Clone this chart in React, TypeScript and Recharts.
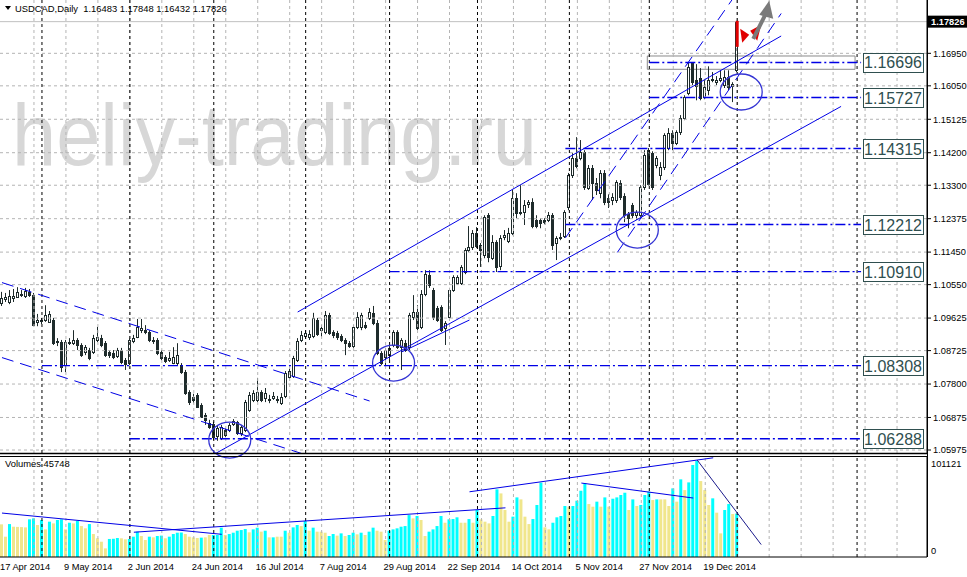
import React from 'react';
import { ComposedChart, Bar, XAxis, YAxis, ReferenceLine, ReferenceDot, ReferenceArea, Cell } from 'recharts';

const FONT = '"Liberation Sans", Arial, "DejaVu Sans", sans-serif';
const CANDLE = '#1e2b2b';
const BLUE = '#0000e6';
const GRID = '#b4b4b4';
const SLOT_COUNT = 232;

const openPrices = [
  1.1004,1.1015,1.1007,1.1018,1.1021,1.1026,1.1023,1.1035,1.1026,1.0952,
  1.0954,1.0957,1.0952,1.0957,1.0896,1.0896,1.0832,1.0893,1.0893,1.0902,
  1.0888,1.0869,1.0874,1.0869,1.0902,1.0907,1.0893,1.0869,1.0866,1.0858,
  1.0874,1.0846,1.0838,1.0899,1.0910,1.0929,1.0929,1.0924,1.0902,1.0902,
  1.0869,1.0855,1.0846,1.0838,1.0838,1.0832,1.0813,1.0758,1.0744,1.0750,
  1.0722,1.0694,1.0672,1.0669,1.0636,1.0631,1.0653,1.0653,1.0669,1.0675,
  1.0645,1.0653,1.0708,1.0736,1.0736,1.0758,1.0741,1.0739,1.0741,1.0739,
  1.0727,1.0747,1.0800,1.0802,1.0846,1.0902,1.0913,1.0910,1.0913,1.0957,
  1.0929,1.0924,1.0971,1.0924,1.0921,1.0913,1.0902,1.0893,1.0885,1.0938,
  1.0938,1.0943,1.0963,1.0977,1.0949,1.0866,1.0855,1.0860,1.0888,1.0924,
  1.0882,1.0893,1.0882,1.0965,1.0979,1.0938,1.1029,1.1081,1.1040,1.0990,
  1.0993,1.0935,1.0965,1.1040,1.1059,1.1059,1.1090,1.1151,1.1159,1.1198,
  1.1164,1.1137,1.1247,1.1128,1.1173,1.1106,1.1187,1.1176,1.1198,1.1294,
  1.1253,1.1256,1.1278,1.1283,1.1234,1.1234,1.1234,1.1234,1.1247,1.1170,
  1.1187,1.1189,1.1270,1.1358,1.1405,1.1405,1.1421,1.1322,1.1377,1.1336,
  1.1308,1.1363,1.1294,1.1289,1.1289,1.1336,1.1300,1.1250,1.1275,1.1247,
  1.1247,1.1325,1.1427,1.1419,1.1386,1.1358,1.1380,1.1433,1.1474,1.1446,
  1.1477,1.1515,1.1585,1.1668,1.1621,1.1626,1.1574,1.1593,1.1621,1.1615,
  1.1621,1.1607,1.1629,1.1604,1.16483,
];

const highPrices = [
  1.1035,1.1032,1.1040,1.1043,1.1048,1.1040,1.1046,1.1043,1.1032,1.0974,
  1.0963,1.0998,1.0982,1.0963,1.0907,1.0902,1.0902,1.0907,1.0929,1.0907,
  1.0893,1.0888,1.0880,1.0916,1.0938,1.0916,1.0899,1.0874,1.0874,1.0880,
  1.0880,1.0852,1.0907,1.0916,1.0960,1.0960,1.0943,1.0929,1.0910,1.0907,
  1.0874,1.0860,1.0869,1.0882,1.0893,1.0838,1.0819,1.0763,1.0753,1.0755,
  1.0727,1.0700,1.0681,1.0675,1.0664,1.0667,1.0658,1.0672,1.0683,1.0678,
  1.0667,1.0736,1.0758,1.0763,1.0797,1.0763,1.0769,1.0750,1.0758,1.0747,
  1.0755,1.0816,1.0822,1.0858,1.0907,1.0927,1.0929,1.0929,1.0977,1.0963,
  1.0943,1.0982,1.0977,1.0929,1.0927,1.0918,1.0907,1.0899,1.0943,1.0979,
  1.0977,1.0952,1.0990,1.0996,1.0957,1.0871,1.0880,1.0885,1.0929,1.0929,
  1.0907,1.0902,1.0977,1.1026,1.0998,1.1040,1.1095,1.1095,1.1046,1.0996,
  1.0998,1.0954,1.1046,1.1081,1.1081,1.1109,1.1156,1.1217,1.1206,1.1214,
  1.1170,1.1247,1.1253,1.1192,1.1178,1.1192,1.1206,1.1212,1.1317,1.1308,
  1.1330,1.1289,1.1289,1.1294,1.1247,1.1239,1.1239,1.1256,1.1253,1.1189,
  1.1198,1.1261,1.1364,1.1419,1.1463,1.1455,1.1427,1.1386,1.1386,1.1350,
  1.1372,1.1372,1.1305,1.1308,1.1344,1.1344,1.1308,1.1256,1.1281,1.1261,
  1.1330,1.1427,1.1433,1.1424,1.1411,1.1394,1.1474,1.1488,1.1482,1.1482,
  1.1524,1.1579,1.1668,1.1670,1.1665,1.1654,1.1621,1.1659,1.1643,1.1632,
  1.1648,1.1648,1.1648,1.1615,1.17848,
];

const lowPrices = [
  1.0996,1.1007,1.1001,1.1007,1.1018,1.1021,1.1018,1.1021,1.0940,1.0940,
  1.0946,1.0952,1.0949,1.0888,1.0885,1.0813,1.0813,1.0888,1.0888,1.0874,
  1.0855,1.0860,1.0846,1.0863,1.0896,1.0882,1.0855,1.0852,1.0849,1.0852,
  1.0835,1.0819,1.0832,1.0893,1.0907,1.0921,1.0918,1.0896,1.0891,1.0860,
  1.0846,1.0838,1.0841,1.0835,1.0832,1.0808,1.0750,1.0722,1.0727,1.0714,
  1.0686,1.0667,1.0656,1.0625,1.0623,1.0625,1.0633,1.0647,1.0664,1.0639,
  1.0636,1.0647,1.0703,1.0730,1.0730,1.0730,1.0730,1.0727,1.0736,1.0727,
  1.0722,1.0741,1.0794,1.0797,1.0841,1.0896,1.0905,1.0902,1.0907,1.0913,
  1.0910,1.0918,1.0916,1.0907,1.0902,1.0896,1.0860,1.0880,1.0880,1.0932,
  1.0929,1.0932,1.0957,1.0943,1.0860,1.0832,1.0830,1.0846,1.0882,1.0877,
  1.0819,1.0869,1.0874,1.0957,1.0929,1.0932,1.1023,1.1046,1.0957,1.0952,
  1.0924,1.0888,1.0957,1.1035,1.1054,1.1054,1.1084,1.1145,1.1151,1.1156,
  1.1104,1.1128,1.1117,1.1123,1.1090,1.1095,1.1178,1.1170,1.1192,1.1239,
  1.1247,1.1220,1.1267,1.1211,1.1211,1.1211,1.1222,1.1228,1.1151,1.1123,
  1.1178,1.1184,1.1261,1.1350,1.1377,1.1399,1.1317,1.1317,1.1289,1.1303,
  1.1294,1.1275,1.1267,1.1275,1.1281,1.1289,1.1228,1.1211,1.1239,1.1234,
  1.1242,1.1317,1.1328,1.1317,1.1377,1.1344,1.1372,1.1427,1.1427,1.1441,
  1.1469,1.1510,1.1579,1.1607,1.1565,1.1565,1.1568,1.1579,1.1615,1.1607,
  1.1615,1.1599,1.1593,1.1560,1.16432,
];

const closePrices = [
  1.1018,1.1021,1.1023,1.1023,1.1035,1.1029,1.1037,1.1026,1.0943,1.0957,
  1.0957,1.0971,1.0974,1.0893,1.0899,1.0827,1.0896,1.0896,1.0902,1.0888,
  1.0860,1.0882,1.0852,1.0907,1.0910,1.0888,1.0860,1.0860,1.0855,1.0874,
  1.0841,1.0835,1.0902,1.0907,1.0938,1.0935,1.0924,1.0902,1.0899,1.0866,
  1.0852,1.0844,1.0852,1.0855,1.0860,1.0813,1.0755,1.0730,1.0736,1.0717,
  1.0689,1.0681,1.0661,1.0633,1.0658,1.0661,1.0639,1.0667,1.0678,1.0645,
  1.0661,1.0730,1.0750,1.0755,1.0758,1.0736,1.0755,1.0736,1.0747,1.0736,
  1.0744,1.0810,1.0816,1.0852,1.0899,1.0916,1.0921,1.0918,1.0963,1.0918,
  1.0935,1.0971,1.0921,1.0916,1.0910,1.0902,1.0893,1.0885,1.0938,1.0965,
  1.0971,1.0938,1.0979,1.0949,1.0866,1.0838,1.0874,1.0880,1.0924,1.0882,
  1.0902,1.0874,1.0971,1.0979,1.0935,1.1029,1.1084,1.1054,1.0965,1.0957,
  1.0929,1.0949,1.1040,1.1076,1.1076,1.1104,1.1151,1.1159,1.1198,1.1162,
  1.1151,1.1242,1.1131,1.1173,1.1104,1.1184,1.1192,1.1198,1.1294,1.1253,
  1.1256,1.1275,1.1283,1.1217,1.1217,1.1225,1.1228,1.1247,1.1164,1.1184,
  1.1184,1.1256,1.1358,1.1405,1.1383,1.1421,1.1325,1.1377,1.1336,1.1317,
  1.1363,1.1283,1.1283,1.1297,1.1339,1.1297,1.1247,1.1239,1.1247,1.1256,
  1.1325,1.1413,1.1333,1.1325,1.1405,1.1380,1.1469,1.1474,1.1446,1.1477,
  1.1515,1.1574,1.1656,1.1615,1.1604,1.1571,1.1601,1.1621,1.1623,1.1621,
  1.1626,1.1629,1.1601,1.1610,1.17826,
];

const volumes = [
  34400,21400,34700,31900,31700,31500,31200,39700,40700,33700,
  39000,29100,37200,35400,39000,39700,29100,36100,35400,37900,
  32600,30200,34700,24200,19700,16100,9100,19000,19200,20000,
  19700,18600,19000,21400,26700,22100,17900,21400,20700,22100,
  22500,19700,21400,24200,25600,25800,24200,21400,20700,20000,
  20400,20700,23200,23200,23200,30900,23200,24200,25600,27700,
  28400,29500,26000,29100,30900,26700,27700,20700,20700,21400,
  21400,27700,25600,31200,33700,32600,37900,27700,30900,26700,
  26700,25600,22100,24200,22500,24900,22100,23200,25600,23900,
  25600,23200,26700,30900,27700,26700,17900,27700,29100,30200,
  31900,32600,44200,40700,43200,39000,22100,26700,29100,32600,
  43200,36100,39700,40000,41800,36100,36100,40000,36100,49500,
  39700,37200,35400,43200,71300,67000,49500,37200,42500,62800,
  60700,42500,34700,40000,54800,78300,31200,29100,36100,41800,
  43200,53700,53000,53700,59300,69800,77600,55800,53000,58300,
  53000,62800,53000,61400,62800,65300,67700,49500,60700,53700,
  54800,65300,68800,60000,60700,60700,60700,53700,72300,58300,
  81800,70500,78600,96900,101121,80000,70500,54800,61800,46700,
  24900,49500,55800,45300,45748,
];

const volumeRising = [
  0,0,1,0,0,0,0,1,1,0, 1,0,1,0,1,1,0,1,0,1,
  0,0,1,0,0,0,0,1,1,1, 0,0,1,1,1,0,0,1,0,1,
  1,0,1,1,1,1,0,0,0,0, 1,0,0,1,1,1,0,1,1,1,
  1,1,0,1,1,0,1,0,1,0, 0,1,0,1,1,0,1,0,1,0,
  0,0,1,1,0,1,0,1,1,0, 1,0,1,1,0,0,0,1,1,1,
  1,1,1,0,1,0,0,1,1,1, 1,0,1,1,1,0,0,1,0,1,
  0,0,0,1,1,0,0,0,1,1, 0,0,0,1,1,1,0,0,1,1,
  1,1,0,1,1,1,1,0,0,1, 0,1,0,1,1,1,1,0,1,0,
  1,1,1,0,1,0,0,0,1,0, 1,0,1,1,1,0,0,0,1,0,
  0,1,1,0,1,
];

const priceTicks = [1.1695, 1.1605, 1.15125, 1.142, 1.133, 1.12375, 1.1145, 1.1055, 1.09625, 1.08725, 1.078, 1.06875, 1.05975];
const priceDomain = [1.05892, 1.18425];
const volumeDomain = [0, 106400];
const volumeTicks = [0, 101121];

const dateLabelBars = [0, 16, 32, 48, 64, 80, 96, 112, 128, 144, 160, 176];
const dateLabels = ['17 Apr 2014', '9 May 2014', '2 Jun 2014', '24 Jun 2014', '16 Jul 2014', '7 Aug 2014', '29 Aug 2014', '22 Sep 2014', '14 Oct 2014', '5 Nov 2014', '27 Nov 2014', '19 Dec 2014'];
const gridBars = [8, 16, 24, 32, 40, 48, 56, 64, 72, 80, 88, 96, 104, 112, 120, 128, 136, 144, 152, 160, 168, 176, 184, 192, 200, 208, 216, 224];
const monthSeparatorBars = [10, 32, 53, 76, 97, 119, 142, 162, 184, 214];

const levelPrices = [1.16696, 1.15727, 1.14315, 1.12212, 1.1091, 1.08308, 1.06288];
const levelStartBars = [162, 162, 141, 141, 97, 10, 32];
const levelEndBar = 215;
const levelBoxBar = 223;
const zoneBars = [162, 213];
const zonePrices = [1.16508, 1.16876];

// trend lines: [barFrom, priceFrom, barTo, priceTo, dashed]
const priceTrendLines = [
  [74, 1.09793, 195, 1.17429, 0],
  [51, 1.05729, 210, 1.15481, 0],
  [100, 1.08687, 117, 1.09572, 0],
  [141, 1.11843, 186, 1.18951, 1],
  [154, 1.11442, 195, 1.18052, 1],
  [0, 1.10607, 92, 1.07331, 1],
  [0, 1.08532, 75, 1.05878, 1],
];
const volumeTrendLines = [
  [0, 46300, 55, 23900],
  [33, 26100, 126, 51800],
  [117, 68700, 178, 104500],
  [145, 77900, 173, 62100],
  [174, 102100, 190, 13100],
];
const circleBars = [57, 98, 159, 185];
const circlePrices = [1.0625, 1.0838, 1.1206, 1.1588];

const lastIndex = closePrices.length - 1;

const priceRows = Array.from({ length: SLOT_COUNT }, (_, i) =>
  i < openPrices.length
    ? { i, range: [lowPrices[i], highPrices[i]], o: openPrices[i], h: highPrices[i], l: lowPrices[i], c: closePrices[i] }
    : { i, range: null }
);
const volumeRows = Array.from({ length: SLOT_COUNT }, (_, i) =>
  i < volumes.length ? { i, vol: volumes[i], up: volumeRising[i] === 1 } : { i, vol: null, up: false }
);

const Candle = (props: any) => {
  const { x, y, width, height, payload } = props;
  if (!payload || payload.o == null) return null;
  const top = height >= 0 ? y : y + height;
  const hh = Math.abs(height);
  const { o, h, l, c } = payload;
  const span = h - l || 1e-9;
  const toY = (v: number) => top + ((h - v) / span) * hh;
  const cx = Math.floor(x + width / 2);
  const y1 = Math.round(Math.min(toY(o), toY(c)));
  const y2 = Math.round(Math.max(toY(o), toY(c)));
  const bull = c >= o;
  return (
    <g>
      <line x1={cx + 0.5} x2={cx + 0.5} y1={top} y2={top + hh} stroke={CANDLE} strokeWidth={1} />
      <rect x={cx - 0.5} y={y1 + 0.5} width={2} height={Math.max(y2 - y1, 0)} fill={bull ? '#ffffff' : CANDLE} stroke={CANDLE} strokeWidth={1} />
    </g>
  );
};

const BidLabel = (props: any) => {
  const vb = props.viewBox || {};
  const x = (vb.x || 0) + (vb.width || 0);
  const y = vb.y || 0;
  return (
    <g>
      <rect x={x + 1} y={y - 6} width={40} height={12} fill="#000" />
      <text x={x + 4} y={y + 3.5} fontSize={9.3} fontFamily={FONT} fontWeight="bold" fill="#fff">
        {closePrices[lastIndex].toFixed(5)}
      </text>
    </g>
  );
};

const LevelBox = (props: any) => {
  const { cx, cy, label } = props;
  return (
    <g>
      <rect x={Math.round(cx - 30) + 0.5} y={Math.round(cy - 9.5) + 0.5} width={60} height={19} fill="#fff" stroke="#2f4f4f" strokeWidth={1} />
      <text x={cx} y={cy + 6} textAnchor="middle" fontSize={16} fontFamily={FONT} fill="#2f4f4f">{label}</text>
    </g>
  );
};

const Ring = (props: any) => (
  <ellipse cx={props.cx} cy={props.cy} rx={21} ry={18} fill="none" stroke="#3434d4" strokeWidth={1.3} />
);

const SellMark = (props: any) => {
  const { cx, cy } = props;
  return (
    <g>
      <rect x={cx - 1.5} y={cy} width={3} height={26} fill="#e00000" />
      <polygon points={`${cx + 3},${cy + 8} ${cx + 12},${cy + 14} ${cx + 5},${cy + 22}`} fill="#e00000" />
      <polygon points={`${cx + 13},${cy + 10} ${cx + 24},${cy + 4} ${cx + 20},${cy + 20}`} fill="#e00000" />
    </g>
  );
};
const BuyArrow = (props: any) => {
  const { cx, cy } = props;
  return (
    <g>
      <line x1={cx + 16} y1={cy + 18} x2={cx + 28} y2={cy - 6} stroke="#7a7a7a" strokeWidth={4} />
      <polygon points={`${cx + 22},${cy - 6} ${cx + 32},${cy - 20} ${cx + 36},${cy - 2}`} fill="#7a7a7a" />
    </g>
  );
};

const DateTick = (props: any) => {
  const { x, y, payload } = props;
  const idx = dateLabelBars.indexOf(payload.value);
  if (idx < 0) return null;
  return (
    <text x={x - 2} y={y + 5} fontSize={9.3} fontFamily={FONT} fill="#000">{dateLabels[idx]}</text>
  );
};

const VolTick = (props: any) => {
  const { x, y, payload } = props;
  return (
    <text x={x} y={payload.value === 0 ? y - 3 : y + 6} fontSize={9.3} fontFamily={FONT} fill="#000">{String(payload.value)}</text>
  );
};

export default function App() {
  return (
    <div style={{ position: 'absolute', left: 0, top: 0, width: 967, height: 577, background: '#fff', overflow: 'hidden' }}>
      <svg width={967} height={577} style={{ position: 'absolute', left: 0, top: 0 }}>
        <text x={12} y={165} fontSize={88} fill="#d7d7d7" fontFamily={FONT} textLength={525} lengthAdjust="spacingAndGlyphs">heliy-trading.ru</text>
      </svg>

      <div style={{ position: 'absolute', left: 0, top: 455 }}>
        <ComposedChart width={967} height={122} data={volumeRows} margin={{ top: 1, right: 0, bottom: 0, left: 0 }} barCategoryGap={0}>
          <XAxis dataKey="i" type="category" height={20} ticks={dateLabelBars} interval={0} axisLine={{ stroke: '#000' }} tickLine={false} tick={<DateTick />} />
          <YAxis orientation="right" width={40} domain={volumeDomain} allowDataOverflow ticks={volumeTicks} interval={0}
            tickSize={0} tickMargin={4} axisLine={{ stroke: '#000' }} tickLine={false} tick={<VolTick />} />
          {gridBars.map((b) => (
            <ReferenceLine key={'vg' + b} x={b} stroke={GRID} strokeDasharray="3 3" />
          ))}
          {monthSeparatorBars.map((b) => (
            <ReferenceLine key={'vm' + b} x={b} stroke="#000" strokeDasharray="3 3" />
          ))}
          <Bar dataKey="vol" barSize={3} isAnimationActive={false}>
            {volumeRows.map((r) => (
              <Cell key={'vc' + r.i} fill={r.up ? '#00ffff' : '#f0e68c'} />
            ))}
          </Bar>
          {volumeTrendLines.map((t, k) => (
            <ReferenceLine key={'vt' + k} segment={[{ x: t[0], y: t[1] }, { x: t[2], y: t[3] }]}
              stroke={k === 4 ? '#1a1a8c' : BLUE} strokeWidth={1} ifOverflow="hidden" />
          ))}
        </ComposedChart>
      </div>

      <div style={{ position: 'absolute', left: 0, top: 0 }}>
        <ComposedChart width={967} height={462} data={priceRows} margin={{ top: 0, right: 0, bottom: 9, left: 0 }} barCategoryGap={0}>
          <XAxis dataKey="i" type="category" hide />
          <YAxis orientation="right" width={40} domain={priceDomain} allowDataOverflow ticks={priceTicks} interval={0}
            tickSize={4} tickMargin={2} axisLine={{ stroke: '#000' }} tickLine={{ stroke: '#000' }}
            tick={{ fontSize: 9.3, fill: '#000', fontFamily: FONT }} tickFormatter={(v: number) => v.toFixed(5)} />
          {priceTicks.map((p) => (
            <ReferenceLine key={'h' + p} y={p} stroke={GRID} strokeDasharray="3 3" />
          ))}
          {gridBars.map((b) => (
            <ReferenceLine key={'g' + b} x={b} stroke={GRID} strokeDasharray="3 3" />
          ))}
          {monthSeparatorBars.map((b) => (
            <ReferenceLine key={'m' + b} x={b} stroke="#000" strokeDasharray="3 3" />
          ))}
          <ReferenceLine y={closePrices[lastIndex]} stroke="#c0c0c0" label={<BidLabel />} />
          <Bar dataKey="range" barSize={3} shape={<Candle />} isAnimationActive={false} />
          <ReferenceArea x1={zoneBars[0]} x2={zoneBars[1]} y1={zonePrices[0]} y2={zonePrices[1]} fill="none" stroke="#8a8a8a" strokeWidth={1} ifOverflow="visible" />
          {levelPrices.map((p, k) => (
            <ReferenceLine key={'l' + p} segment={[{ x: levelStartBars[k], y: p }, { x: levelEndBar, y: p }]}
              stroke={BLUE} strokeWidth={1.4} strokeDasharray="10 3 2 3" ifOverflow="visible" />
          ))}
          {priceTrendLines.map((t, k) => (
            <ReferenceLine key={'t' + k} segment={[{ x: t[0], y: t[1] }, { x: t[2], y: t[3] }]}
              stroke={BLUE} strokeWidth={1} strokeDasharray={t[4] ? '12 7' : undefined} ifOverflow="hidden" />
          ))}
          {circleBars.map((b, k) => (
            <ReferenceDot key={'c' + k} x={b} y={circlePrices[k]} r={20} ifOverflow="visible" shape={<Ring />} />
          ))}
          <ReferenceDot x={lastIndex} y={highPrices[lastIndex]} r={2} ifOverflow="visible" shape={<SellMark />} />
          <ReferenceDot x={lastIndex} y={highPrices[lastIndex]} r={2} ifOverflow="visible" shape={<BuyArrow />} />
          {levelPrices.map((p, k) => (
            <ReferenceDot key={'b' + k} x={levelBoxBar} y={p} r={2} ifOverflow="visible" shape={<LevelBox label={p.toFixed(5)} />} />
          ))}
        </ComposedChart>
      </div>

      <svg width={967} height={577} style={{ position: 'absolute', left: 0, top: 0, pointerEvents: 'none' }}>
        <line x1={0} x2={928} y1={453.5} y2={453.5} stroke="#000" strokeWidth={1.5} />
        <line x1={0} x2={928} y1={456.5} y2={456.5} stroke="#000" strokeWidth={1} />
        <line x1={927.5} x2={927.5} y1={0} y2={557} stroke="#000" strokeWidth={1} />
        <polygon points="5,6 11,6 8,10" fill="#000" />
        <text x={15} y={12} fontSize={9.4} fontFamily={FONT} fill="#000" style={{ whiteSpace: 'pre' }}>
          {`USDCAD,Daily  ${openPrices[lastIndex].toFixed(5)} ${highPrices[lastIndex].toFixed(5)} ${lowPrices[lastIndex].toFixed(5)} ${closePrices[lastIndex].toFixed(5)}`}
        </text>
        <text x={5} y={467} fontSize={9.4} fontFamily={FONT} fill="#000">{`Volumes ${volumes[lastIndex]}`}</text>
      </svg>
    </div>
  );
}
